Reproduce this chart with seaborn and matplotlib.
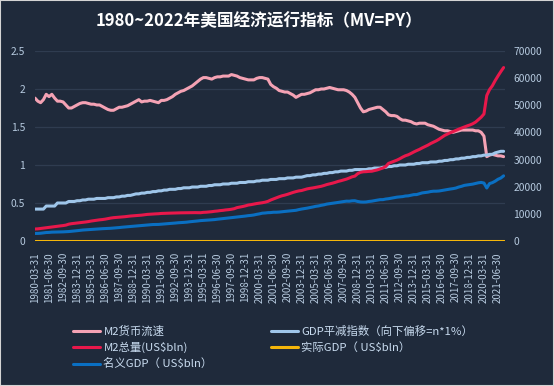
import matplotlib
matplotlib.use("Agg")
import matplotlib.pyplot as plt
import pandas as pd
import seaborn as sns
from matplotlib.lines import Line2D
from matplotlib.patches import Rectangle

# quarterly, 1980Q1 .. 2021Q4
quarters = pd.date_range("1980-03-31", periods=168, freq="QE").strftime("%Y-%m-%d").tolist()

m2_velocity = [
    1.88, 1.84, 1.82, 1.86, 1.93, 1.90, 1.93, 1.88, 1.84, 1.84, 1.83, 1.79,
    1.75, 1.75, 1.77, 1.79, 1.81, 1.82, 1.82, 1.81, 1.80, 1.80, 1.79, 1.79,
    1.77, 1.75, 1.73, 1.72, 1.72, 1.74, 1.76, 1.76, 1.77, 1.78, 1.80, 1.82,
    1.84, 1.86, 1.83, 1.84, 1.84, 1.85, 1.84, 1.83, 1.82, 1.85, 1.85, 1.86,
    1.88, 1.90, 1.93, 1.95, 1.97, 1.98, 2.00, 2.02, 2.04, 2.07, 2.10, 2.13,
    2.15, 2.15, 2.14, 2.13, 2.15, 2.16, 2.16, 2.17, 2.17, 2.17, 2.19, 2.18,
    2.17, 2.15, 2.14, 2.13, 2.12, 2.12, 2.12, 2.14, 2.15, 2.15, 2.14, 2.13,
    2.06, 2.03, 2.01, 1.98, 1.97, 1.96, 1.96, 1.94, 1.92, 1.89, 1.91, 1.93,
    1.93, 1.94, 1.95, 1.97, 1.99, 1.99, 2.00, 2.00, 2.01, 2.02, 2.01, 2.00,
    1.99, 1.99, 1.99, 1.98, 1.96, 1.93, 1.89, 1.82, 1.75, 1.70, 1.71, 1.73,
    1.74, 1.75, 1.76, 1.76, 1.73, 1.70, 1.66, 1.65, 1.65, 1.64, 1.61, 1.59,
    1.59, 1.58, 1.57, 1.55, 1.54, 1.55, 1.55, 1.55, 1.53, 1.52, 1.51, 1.49,
    1.47, 1.46, 1.45, 1.45, 1.44, 1.43, 1.44, 1.45, 1.46, 1.46, 1.46, 1.46,
    1.46, 1.45, 1.45, 1.43, 1.38, 1.11, 1.13, 1.14, 1.13, 1.12, 1.12, 1.11,
]

gdp_deflator = [
    0.42, 0.42, 0.42, 0.42, 0.46, 0.46, 0.46, 0.46, 0.50, 0.50, 0.50, 0.50,
    0.52, 0.52, 0.52, 0.53, 0.53, 0.54, 0.54, 0.55, 0.55, 0.55, 0.56, 0.56,
    0.56, 0.56, 0.57, 0.57, 0.57, 0.58, 0.58, 0.59, 0.59, 0.60, 0.60, 0.61,
    0.62, 0.62, 0.63, 0.63, 0.64, 0.64, 0.65, 0.65, 0.66, 0.66, 0.67, 0.67,
    0.68, 0.68, 0.68, 0.69, 0.69, 0.70, 0.70, 0.70, 0.71, 0.71, 0.71, 0.72,
    0.72, 0.72, 0.73, 0.73, 0.74, 0.74, 0.74, 0.75, 0.75, 0.75, 0.76, 0.76,
    0.76, 0.77, 0.77, 0.77, 0.78, 0.78, 0.78, 0.79, 0.79, 0.80, 0.80, 0.80,
    0.81, 0.81, 0.81, 0.82, 0.82, 0.82, 0.83, 0.83, 0.83, 0.84, 0.84, 0.84,
    0.85, 0.86, 0.86, 0.87, 0.87, 0.88, 0.88, 0.89, 0.89, 0.90, 0.90, 0.91,
    0.91, 0.92, 0.92, 0.92, 0.93, 0.93, 0.94, 0.94, 0.94, 0.94, 0.94, 0.95,
    0.95, 0.96, 0.96, 0.96, 0.97, 0.97, 0.98, 0.98, 0.99, 0.99, 1.00, 1.00,
    1.00, 1.01, 1.01, 1.01, 1.02, 1.02, 1.03, 1.03, 1.03, 1.04, 1.04, 1.04,
    1.05, 1.05, 1.06, 1.06, 1.07, 1.07, 1.08, 1.08, 1.09, 1.09, 1.10, 1.10,
    1.11, 1.11, 1.12, 1.12, 1.13, 1.13, 1.14, 1.14, 1.16, 1.17, 1.18, 1.18,
]

m2_total = [
    4420, 4480, 4620, 4760, 4900, 5040, 5180, 5300, 5450, 5560, 5680, 5850,
    6200, 6380, 6500, 6620, 6750, 6880, 7000, 7150, 7350, 7500, 7680, 7800,
    7900, 8050, 8250, 8450, 8600, 8680, 8750, 8850, 8950, 9080, 9200, 9280,
    9350, 9400, 9530, 9680, 9800, 9880, 9950, 10000, 10050, 10150, 10200, 10230,
    10260, 10300, 10330, 10380, 10380, 10400, 10430, 10450, 10450, 10450, 10430, 10420,
    10550, 10600, 10700, 10800, 10950, 11050, 11200, 11300, 11450, 11550, 11700, 11900,
    12300, 12500, 12700, 12950, 13250, 13400, 13600, 13800, 13950, 14100, 14300, 14600,
    15100, 15500, 15900, 16300, 16650, 16900, 17200, 17550, 17900, 18200, 18450, 18600,
    18900, 19200, 19400, 19550, 19750, 19950, 20150, 20450, 20800, 21050, 21300, 21600,
    21950, 22200, 22500, 22800, 23200, 23650, 23900, 24800, 25300, 25500, 25550, 25650,
    25700, 25950, 26200, 26550, 26900, 27450, 28600, 29000, 29400, 29800, 30300, 30900,
    31400, 31750, 32250, 32800, 33300, 33750, 34300, 34800, 35300, 35900, 36400, 36900,
    37500, 38200, 38900, 39400, 39900, 40300, 40750, 41200, 41600, 42000, 42400, 42750,
    43200, 43800, 44700, 45600, 46800, 53600, 55800, 57200, 59100, 60800, 62400, 63900,
]

nominal_gdp = [
    2789, 2797, 2857, 2986, 3124, 3163, 3260, 3280, 3274, 3332, 3367, 3407,
    3480, 3584, 3693, 3797, 3938, 4040, 4114, 4174, 4265, 4327, 4410, 4470,
    4536, 4577, 4639, 4687, 4765, 4865, 4949, 5069, 5141, 5249, 5342, 5439,
    5556, 5643, 5732, 5786, 5907, 6011, 6066, 6080, 6105, 6186, 6259, 6318,
    6445, 6535, 6618, 6721, 6768, 6853, 6933, 7071, 7167, 7298, 7388, 7519,
    7580, 7637, 7733, 7810, 7893, 8029, 8121, 8254, 8367, 8487, 8612, 8704,
    8810, 8894, 9030, 9189, 9340, 9439, 9589, 9817, 10002, 10248, 10319, 10439,
    10473, 10597, 10597, 10660, 10784, 10888, 10985, 11061, 11175, 11312, 11566, 11772,
    11923, 12112, 12305, 12527, 12762, 12910, 13142, 13332, 13603, 13749, 13867, 14038,
    14208, 14383, 14535, 14681, 14651, 14806, 14835, 14560, 14382, 14340, 14384, 14566,
    14681, 14888, 15058, 15231, 15239, 15461, 15588, 15785, 16019, 16153, 16257, 16359,
    16570, 16637, 16848, 17083, 17104, 17433, 17721, 17849, 17985, 18219, 18345, 18350,
    18425, 18612, 18775, 18968, 19149, 19300, 19510, 19883, 20143, 20493, 20659, 20814,
    20952, 21203, 21443, 21587, 21344, 19520, 21171, 21494, 22039, 22742, 23202, 24003,
]

# the real GDP series sits flat on the zero line in the source chart
real_gdp = [0] * len(quarters)

labels = [
    "M2货币流速",
    "M2总量(US$bln)",
    "名义GDP（ US$bln）",
    "GDP平减指数（向下偏移=n*1%）",
    "实际GDP（ US$bln）",
]
colors = ["#f4a2b4", "#e8184b", "#0a6fc2", "#9fc6ea", "#f5b60a"]

df = pd.DataFrame({
    "idx": range(len(quarters)),
    "m2v": m2_velocity,
    "defl": gdp_deflator,
    "m2": m2_total,
    "ngdp": nominal_gdp,
    "rgdp": real_gdp,
})

sns.set_theme(style="dark")
plt.rcParams["font.family"] = ["Noto Sans CJK SC", "DejaVu Sans"]

bg = "#1f2a3b"
txt = "#b7cbe0"
fig = plt.figure(figsize=(5.54, 3.86), dpi=100, facecolor=bg)
ax = fig.add_axes([35 / 554, 1 - 241 / 386, 470 / 554, 190 / 386])
ax.set_facecolor(bg)
ax2 = ax.twinx()

lw = 2.2
sns.lineplot(data=df, x="idx", y="m2v", ax=ax, color=colors[0], linewidth=lw)
sns.lineplot(data=df, x="idx", y="defl", ax=ax, color=colors[3], linewidth=lw)
sns.lineplot(data=df, x="idx", y="rgdp", ax=ax2, color=colors[4], linewidth=lw)
sns.lineplot(data=df, x="idx", y="ngdp", ax=ax2, color=colors[2], linewidth=lw)
sns.lineplot(data=df, x="idx", y="m2", ax=ax2, color=colors[1], linewidth=lw)

ax.set_xlim(0, 167.5)
ax.set_ylim(0, 2.5)
ax2.set_ylim(0, 70000)
ax.set_yticks([0, 0.5, 1, 1.5, 2, 2.5])
ax.set_yticklabels(["0", "0.5", "1", "1.5", "2", "2.5"])
ax2.set_yticks(range(0, 70001, 10000))
ax2.set_yticklabels([str(v) for v in range(0, 70001, 10000)])
ticks = list(range(0, len(quarters), 5))
ax.set_xticks(ticks)
ax.set_xticklabels([quarters[i] for i in ticks], rotation=90)

ax.grid(axis="y", color="#2f3c50", linewidth=0.9)
ax.grid(axis="x", visible=False)
ax2.grid(False)
for a in (ax, ax2):
    a.set_xlabel("")
    a.set_ylabel("")
    for s in a.spines.values():
        s.set_visible(False)
ax.tick_params(axis="y", length=0, pad=7, labelsize=7.4, labelcolor=txt)
ax.tick_params(axis="x", length=0, pad=8, labelsize=7.0, labelcolor=txt)
ax2.tick_params(axis="y", length=0, pad=6, labelsize=7.4, labelcolor=txt)

fig.text(259 / 554, 1 - 21 / 386, "1980~2022年美国经济运行指标（MV=PY）",
         ha="center", va="center", fontsize=12, fontweight="bold", color="white")

handles = [Line2D([], [], color=c, linewidth=2.2) for c in colors]
leg_kw = dict(frameon=False, fontsize=8.2, labelcolor="#c8dbef", handlelength=2.4,
              handletextpad=0.3, borderpad=0, labelspacing=0.45, loc="upper left")
fig.legend(handles[:3], labels[:3], bbox_to_anchor=(67 / 554, 1 - 320 / 386), **leg_kw)
fig.legend(handles[3:], labels[3:], bbox_to_anchor=(265 / 554, 1 - 320 / 386), **leg_kw)

fig.patches.append(Rectangle((0, 0), 1, 1, transform=fig.transFigure, fill=False,
                             edgecolor="#d4d4d4", linewidth=1.5))

fig.savefig("out.png", dpi=100, facecolor=bg)
